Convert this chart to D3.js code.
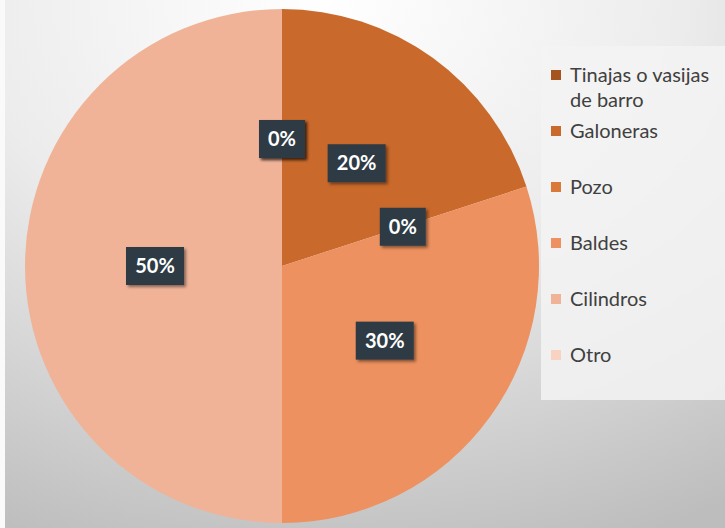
<!DOCTYPE html>
<html>
<head>
<meta charset="utf-8">
<script src="https://cdn.jsdelivr.net/npm/d3@7"></script>
<style>
  body { margin:0; padding:0; }
  svg { display:block; }
</style>
</head>
<body>
<svg id="svg"></svg>
<script>
var categories = ["Tinajas o vasijas de barro", "Galoneras", "Pozo", "Baldes", "Cilindros", "Otro"];
var values = [0, 20, 0, 30, 50, 0];
var colors = ["#a5531f", "#c9692b", "#d9793a", "#ec915f", "#f0b398", "#f8d3c3"];

var width = 725, height = 528;
var cx = 282, cy = 266, r = 257;

var svg = d3.select("#svg")
  .attr("width", width)
  .attr("height", height)
  .style("font-family", "Lato, 'Open Sans', sans-serif");

var defs = svg.append("defs");
var bg = defs.append("radialGradient")
  .attr("id", "bg")
  .attr("cx", "45%").attr("cy", "0%").attr("r", "110%");
bg.append("stop").attr("offset", "0%").style("stop-color", "#ffffff");
bg.append("stop").attr("offset", "45%").style("stop-color", "#ececec");
bg.append("stop").attr("offset", "100%").style("stop-color", "#bdbdbd");

var sh = defs.append("filter").attr("id", "sh")
  .attr("x", "-30%").attr("y", "-30%").attr("width", "160%").attr("height", "160%");
sh.append("feDropShadow").attr("dx", 2).attr("dy", 2).attr("stdDeviation", 1.5)
  .attr("flood-color", "#000").attr("flood-opacity", 0.45);

svg.append("rect").attr("width", width).attr("height", height).style("fill", "url(#bg)");
svg.append("rect").attr("width", 5).attr("height", height).style("fill", "#fafafa");

// legend panel
svg.append("rect")
  .attr("x", 541).attr("y", 46).attr("width", 184).attr("height", 354)
  .style("fill", "#f3f3f3").style("opacity", 0.85);

var pie = d3.pie().sort(null).value(d => d)(values);
var arc = d3.arc().innerRadius(0).outerRadius(r);
var labelArc = d3.arc().innerRadius(127).outerRadius(127);

var g = svg.append("g").attr("transform", `translate(${cx},${cy})`);

g.selectAll(".slice")
  .data(pie)
  .enter()
  .append("path")
  .attr("class", "slice")
  .attr("d", arc)
  .attr("fill", (d, i) => colors[i]);

var lab = g.selectAll(".lab")
  .data(pie)
  .enter()
  .append("g")
  .attr("class", "lab")
  .attr("transform", d => `translate(${labelArc.centroid(d)})`);

lab.append("rect")
  .attr("x", d => d.data === 0 ? -23 : -29)
  .attr("y", -19)
  .attr("width", d => d.data === 0 ? 46 : 58)
  .attr("height", 38)
  .attr("fill", "#2f3b45")
  .attr("filter", "url(#sh)");

lab.append("text")
  .attr("text-anchor", "middle")
  .attr("dy", "0.36em")
  .style("fill", "#ffffff")
  .style("font-weight", 700)
  .style("font-size", "20px")
  .text(d => d.data + "%");

// legend
var legY = d3.scalePoint().domain(categories).range([75, 355]);
var leg = svg.append("g").attr("class", "legend");
var item = leg.selectAll(".item")
  .data(categories)
  .enter()
  .append("g")
  .attr("class", "item")
  .attr("transform", d => `translate(551,${legY(d)})`);

item.append("rect")
  .attr("x", 0).attr("y", -5).attr("width", 10).attr("height", 10)
  .attr("fill", (d, i) => colors[i]);

item.append("text")
  .attr("x", 19)
  .attr("dy", "0.36em")
  .style("font-size", "20px")
  .style("fill", "#404040")
  .each(function(d) {
    var t = d3.select(this);
    if (d === "Tinajas o vasijas de barro") {
      t.append("tspan").attr("x", 19).text("Tinajas o vasijas");
      t.append("tspan").attr("x", 19).attr("dy", 25).text("de barro");
    } else {
      t.text(d);
    }
  });
</script>
</body>
</html>
